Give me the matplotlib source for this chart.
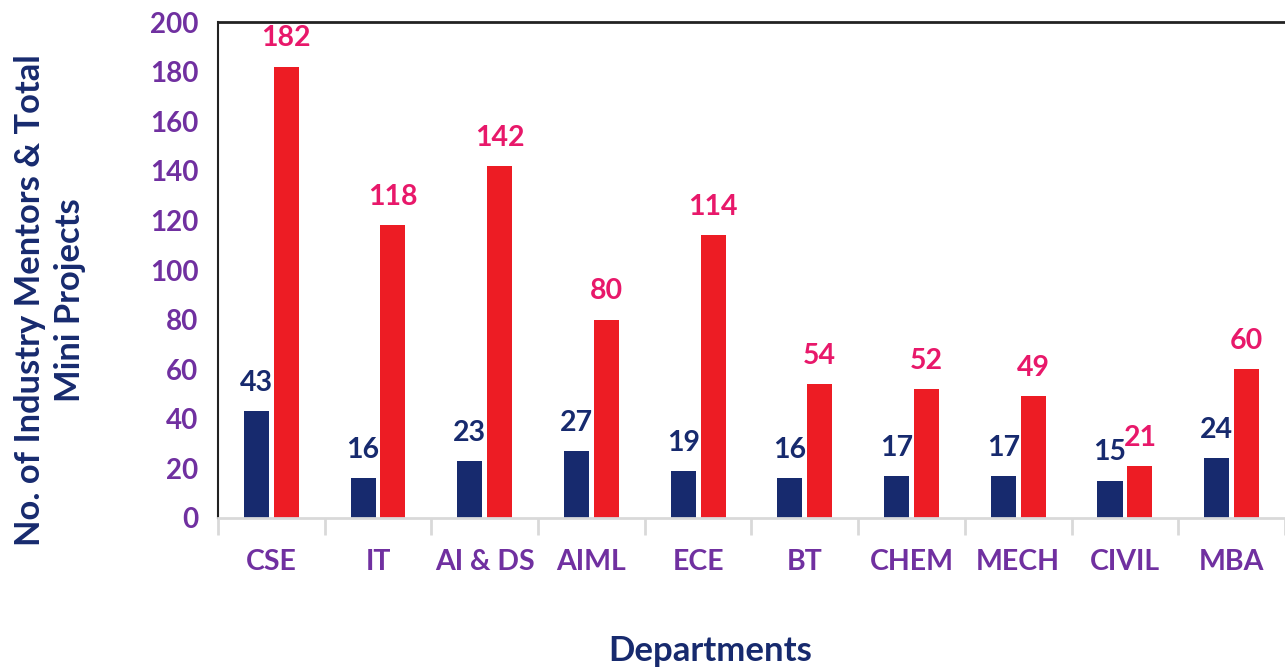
import matplotlib

matplotlib.use("Agg")
import matplotlib.pyplot as plt
import numpy as np

departments = ["CSE", "IT", "AI & DS", "AIML", "ECE", "BT", "CHEM", "MECH", "CIVIL", "MBA"]
mentors = [43, 16, 23, 27, 19, 16, 17, 17, 15, 24]
projects = [182, 118, 142, 80, 114, 54, 52, 49, 21, 60]
y_ticks = [0, 20, 40, 60, 80, 100, 120, 140, 160, 180, 200]

NAVY = "#172A6E"
RED = "#ED1C24"
PINK = "#E8186A"
PURPLE = "#7030A0"

plt.rcParams["font.family"] = ["Lato", "DejaVu Sans"]
plt.rcParams["font.weight"] = "bold"

fig = plt.figure(figsize=(12.85, 6.68), dpi=100)
ax = fig.add_axes([0.1696, 0.2246, 0.8304, 0.7424])

x = np.arange(len(departments))
w = 0.235
gap = 0.045
b1 = ax.bar(x - (w + gap) / 2, mentors, w, color=NAVY, zorder=2)
b2 = ax.bar(x + (w + gap) / 2, projects, w, color=RED, zorder=2)

for rect, v in zip(b1, mentors):
    ax.annotate(str(v), (rect.get_x() + rect.get_width() / 2, v), xytext=(0, 11),
                textcoords="offset points", ha="center", va="bottom",
                fontsize=20.5, fontweight="bold", color=NAVY)
for rect, v in zip(b2, projects):
    ax.annotate(str(v), (rect.get_x() + rect.get_width() / 2, v), xytext=(0, 11),
                textcoords="offset points", ha="center", va="bottom",
                fontsize=20.5, fontweight="bold", color=PINK)

ax.set_xlim(-0.5, len(departments) - 0.5)
ax.set_ylim(0, 200)
ax.set_yticks(y_ticks)
ax.set_xticks(x)
ax.set_xticklabels(departments)
ax.set_xticks(np.arange(len(departments) + 1) - 0.5, minor=True)

ax.tick_params(axis="y", length=0, pad=14, labelsize=20, labelcolor=PURPLE)
ax.tick_params(axis="x", which="major", length=0, pad=22, labelsize=20.5, labelcolor=PURPLE)
ax.tick_params(axis="x", which="minor", length=12, width=2, color="#D9D9D9")
for lab in ax.get_xticklabels() + ax.get_yticklabels():
    lab.set_fontweight("bold")

ax.spines["right"].set_visible(False)
ax.spines["left"].set_color("#222222")
ax.spines["left"].set_linewidth(1.5)
ax.spines["top"].set_color("#222222")
ax.spines["top"].set_linewidth(2)
ax.spines["bottom"].set_color("#D9D9D9")
ax.spines["bottom"].set_linewidth(2)

fig.text(0.039, 0.55, "No. of Industry Mentors & Total\nMini Projects", rotation=90,
         ha="center", va="center", fontsize=24.8, fontweight="bold", color=NAVY,
         linespacing=1.3)
fig.text(0.553, 0.025, "Departments", ha="center", va="center",
         fontsize=25, fontweight="bold", color=NAVY)

fig.savefig("out.png", dpi=100, facecolor="white")
